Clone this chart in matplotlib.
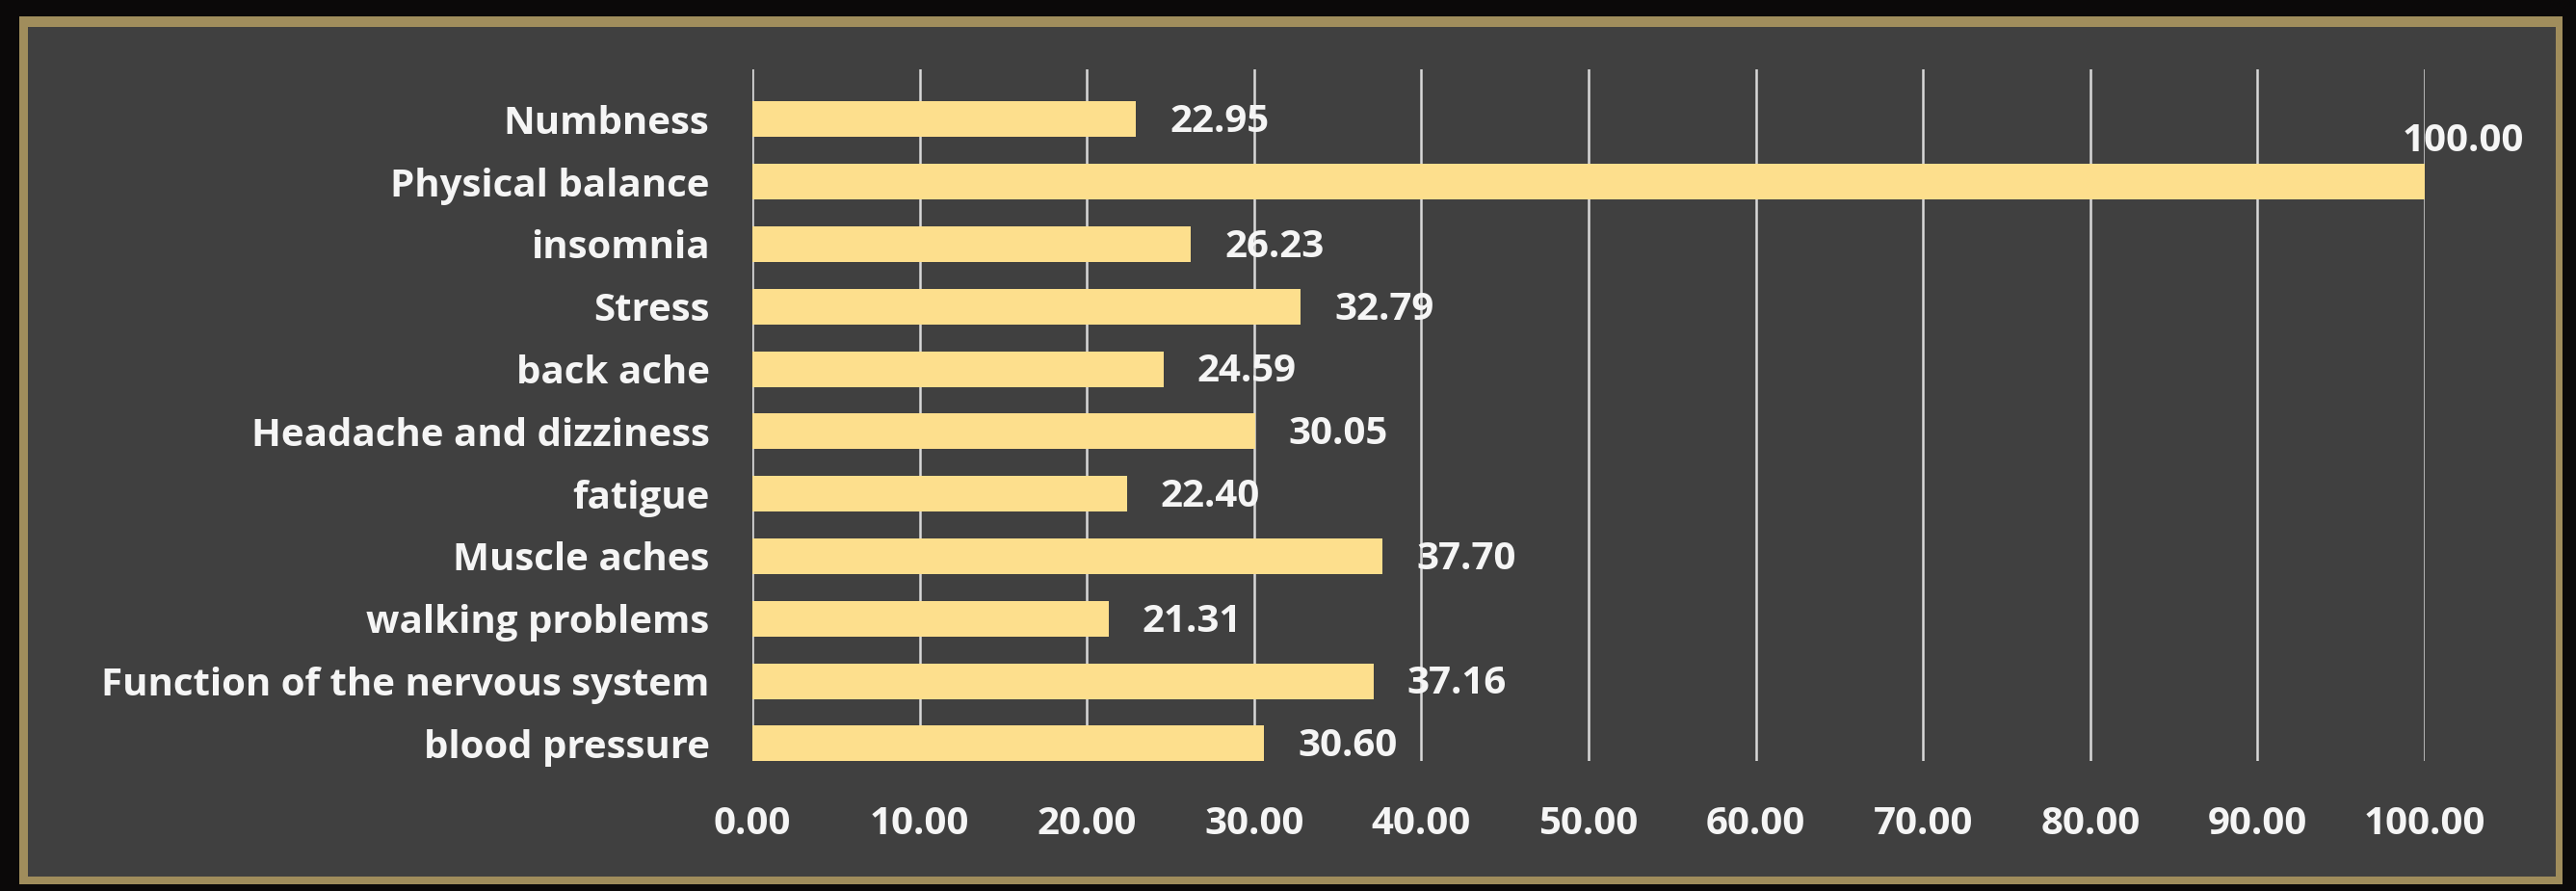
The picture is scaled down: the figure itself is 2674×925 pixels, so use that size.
"""
Symptom improvement bar chart (horizontal), dark slide style.
"""

import matplotlib.pyplot as plt
from matplotlib.patches import Rectangle
import numpy as np

CATEGORIES = [
    "Numbness",
    "Physical balance",
    "insomnia",
    "Stress",
    "back ache",
    "Headache and dizziness",
    "fatigue",
    "Muscle aches",
    "walking problems",
    "Function of the nervous system",
    "blood pressure",
]
VALUES = [22.95, 100.00, 26.23, 32.79, 24.59, 30.05, 22.40, 37.70, 21.31, 37.16, 30.60]
X_TICKS = [0, 10, 20, 30, 40, 50, 60, 70, 80, 90, 100]

C_OUTER = "#0b0909"
C_FRAME = "#a08d5c"
C_PANEL = "#404040"
C_BAR = "#fddf8d"
C_GRID = "#d9d9d9"
C_TEXT = "#f5f5f5"
FONT = ["Open Sans", "DejaVu Sans"]
FS = 29


def main() -> None:
    plt.rcParams.update({"font.family": FONT, "font.weight": "bold"})
    W, H = 2674, 925
    fig = plt.figure(figsize=(W / 100, H / 100), dpi=100)
    fig.patch.set_facecolor(C_OUTER)

    # gold frame + grey panel
    fig.patches.append(Rectangle((20 / W, 1 - 918 / H), 2640 / W, 901 / H,
                                 transform=fig.transFigure, facecolor=C_FRAME,
                                 edgecolor="none", zorder=-3))
    fig.patches.append(Rectangle((29 / W, 1 - 910 / H), 2624 / W, 882 / H,
                                 transform=fig.transFigure, facecolor=C_PANEL,
                                 edgecolor="none", zorder=-2))

    ax = fig.add_axes([781 / W, 1 - 790 / H, (2517 - 781) / W, (790 - 72) / H])
    ax.set_facecolor("none")
    ax.set_zorder(1)

    n = len(CATEGORIES)
    ys = np.arange(n)[::-1]
    ax.barh(ys, VALUES, height=0.57, color=C_BAR, zorder=3)

    for y, v in zip(ys, VALUES):
        if v >= 100:
            ax.annotate(f"{v:.2f}", (v, y), xytext=(-17, 30), textcoords="offset points",
                        ha="left", va="center", color=C_TEXT, fontsize=FS, fontweight="bold",
                        zorder=4)
        else:
            ax.annotate(f"{v:.2f}", (v, y), xytext=(25, -2), textcoords="offset points",
                        ha="left", va="center", color=C_TEXT, fontsize=FS, fontweight="bold",
                        zorder=4)

    ax.set_xlim(0, 100)
    ax.set_ylim(-0.28, n - 1 + 0.80)
    ax.set_xticks(X_TICKS)
    ax.set_xticklabels([f"{t:.2f}" for t in X_TICKS], color=C_TEXT, fontsize=FS,
                       fontweight="bold")
    ax.set_yticks(ys)
    ax.set_yticklabels(CATEGORIES, color=C_TEXT, fontsize=FS, fontweight="bold")
    ax.tick_params(axis="x", length=0, pad=33)
    ax.tick_params(axis="y", length=0, pad=32)
    ax.grid(axis="x", color=C_GRID, linewidth=1.8, zorder=1)
    ax.set_axisbelow(True)
    for s in ax.spines.values():
        s.set_visible(False)

    fig.savefig("out.png", dpi=100, facecolor=C_OUTER)
    plt.close(fig)


if __name__ == "__main__":
    main()
